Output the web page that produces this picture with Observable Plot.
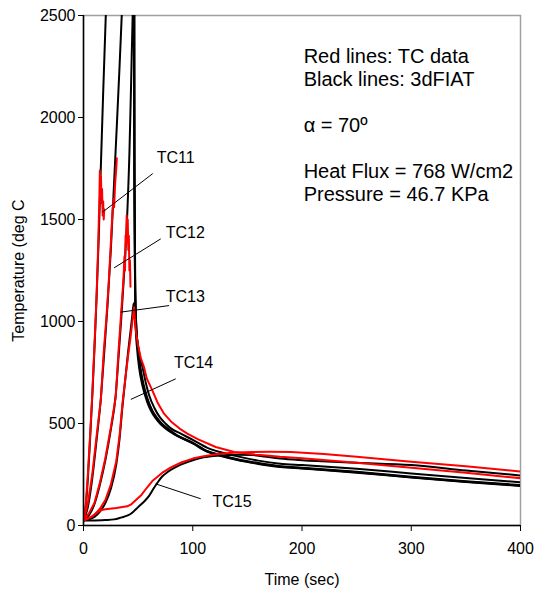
<!DOCTYPE html>
<html>
<head>
<meta charset="utf-8">
<script src="https://cdn.jsdelivr.net/npm/d3@7"></script>
<script src="https://cdn.jsdelivr.net/npm/@observablehq/plot@0.6"></script>
<style>
  body { margin: 0; background: white; }
  #chart svg { display: block; }
</style>
</head>
<body>
<div id="chart"></div>
<script>
// ---- Data: [time (sec), temperature (deg C)] ----
const black11 = [[0,25],[2,90],[4,230],[6,420],[8,630],[10,860],[12,1120],[14,1420],[16,1780],[18,2120],[20.4,2500],[22,2740],[46,5200],[46.6,1800],[47.2,1200],[48,950],[49,870],[51,770],[54,685],[58,610],[62,560],[66,526],[70,500],[75,476],[84,444],[100,402],[113,362],[125,342],[140,322],[160,302],[180,287],[200,279],[250,259],[300,235],[350,213],[400,194]];
const black12 = [[0,25],[4,90],[8,230],[12,420],[16,630],[19,850],[22,1080],[25,1350],[28,1680],[30.5,1960],[33,2250],[35,2500],[37,2750],[46,4300],[46.7,1700],[47.4,1150],[48.5,960],[50,850],[52,765],[55,680],[59,610],[63,560],[67,527],[71,500],[76,477],[84,446],[100,404],[113,364],[125,344],[140,324],[160,304],[180,289],[200,281],[250,261],[300,237],[350,215],[400,196]];
const black13 = [[0,25],[5,50],[10,105],[15,200],[20,320],[25,470],[29.5,640],[32,820],[34.5,1010],[37,1220],[40,1520],[42,1820],[43.5,2150],[45,2500],[46,2650],[46.6,1600],[47.5,1100],[48.5,960],[50,860],[52,775],[55,690],[59,615],[63,563],[67,530],[71,503],[76,480],[84,448],[100,406],[113,366],[125,346],[140,326],[160,306],[180,291],[200,283],[250,263],[300,239],[350,217],[400,198]];
const black14 = [[0,25],[5,30],[10,42],[15,68],[20,110],[25,180],[30,300],[33,425],[35.7,585],[38.7,740],[41,860],[43,950],[44.5,1020],[46,1090],[46.6,1060],[47,1020],[48,960],[50,880],[52,820],[54,776],[57,700],[60,640],[65,575],[70,530],[75,500],[80,476],[89,450],[100,420],[113,382],[125,360],[140,340],[160,318],[180,303],[200,296],[250,278],[300,255],[350,233],[400,212]];
const black15 = [[0,25],[10,25],[20,27],[28,30],[35,40],[40,48],[44,60],[48,80],[52,100],[56,120],[60,145],[64,180],[68,212],[72,240],[77,262],[83,282],[89,298],[100,320],[110,334],[125,343],[140,347],[155,345],[180,328],[200,320],[250,308],[300,296],[350,270],[400,245]];

const red11 = [[0,25],[2,100],[4,250],[6,440],[8,640],[10,880],[12,1130],[13.5,1380],[14.5,1600],[15,1740],[15.5,1620],[16,1710],[16.5,1580],[17,1650],[17.5,1520],[18,1590],[18.5,1500],[19,1550]];
const red12 = [[0,25],[4,110],[8,250],[12,440],[15.8,613],[18.6,858],[21,1020],[23.2,1200],[25,1380],[26.5,1540],[27.5,1600],[28,1560],[29,1680],[30,1750],[30.5,1800]];
const red13 = [[0,25],[5,60],[10,110],[15,210],[20,330],[25,480],[29.5,630],[32,850],[34.5,1045],[36.5,1200],[37.5,1320],[38,1250],[38.5,1420],[39,1380],[39.5,1520],[40,1450],[40.5,1500],[41,1350],[41.5,1420],[42,1250],[42.5,1300],[43,1170]];
const red14 = [[0,25],[5,35],[10,52],[15,82],[20,125],[25,200],[30,315],[33,440],[35.7,600],[38.7,740],[41,840],[43,920],[44.5,990],[46.3,1070],[47,1010],[48,950],[50,880],[52.5,820],[55.4,776],[58,720],[63,662],[68,600],[73.7,548],[80,510],[88,475],[95,450],[105,422],[121,385],[138,360],[157,348],[180,337],[200,330],[250,308],[300,283],[350,258],[400,232]];
const red15 = [[0,25],[4,35],[8,45],[12,62],[16,75],[20,80],[30,86],[40,94],[44,105],[48,125],[53,150],[58,185],[63,218],[68,240],[73,262],[80,285],[90,310],[100,328],[110,340],[125,352],[140,358],[155,360],[170,361],[190,360],[220,350],[250,337],[300,312],[350,290],[400,265]];

// Labels for the thermocouples and their leader lines (time, temperature)
const tcNames = ["TC11","TC12","TC13","TC14","TC15"];
const tcLabelT = [67.0, 75.3, 75.3, 82.9, 118.0];
const tcLabelTemp = [1801, 1434, 1123, 799, 114];
const leaderT1 = [63.4, 70.7, 78.3, 84.4, 107.3];
const leaderTemp1 = [1725, 1405, 1078, 719, 131];
const leaderT2 = [17.4, 28.0, 34.1, 43.3, 66.1];
const leaderTemp2 = [1536, 1263, 1046, 618, 204];

// Annotation block
const noteLines = ["Red lines: TC data", "Black lines: 3dFIAT", "\u03b1 = 70\u00ba", "Heat Flux = 768 W/cm2", "Pressure = 46.7 KPa"];
const noteT = [201.5, 201.5, 201.5, 201.5, 201.5];
const noteTemp = [2299, 2186, 1961, 1735, 1623];

const xTicks = [0, 100, 200, 300, 400];
const yTicks = [0, 500, 1000, 1500, 2000, 2500];

const blackSeries = [black11, black12, black13, black14, black15];
const redSeries = [red11, red12, red13, red14, red15];

const labels = tcNames.map((n, i) => ({name: n, t: tcLabelT[i], temp: tcLabelTemp[i], t1: leaderT1[i], y1: leaderTemp1[i], t2: leaderT2[i], y2: leaderTemp2[i]}));
const notes = noteLines.map((s, i) => ({s, t: noteT[i], temp: noteTemp[i]}));

const font = "'Liberation Sans', Arial, Helvetica, sans-serif";

const lineOpts = (color, curve) => ({x: d => d[0], y: d => d[1], stroke: color, strokeWidth: 2, clip: true, curve});

const chart = Plot.plot({
  width: 535,
  height: 590,
  marginLeft: 83,
  marginRight: 15,
  marginTop: 15,
  marginBottom: 65,
  style: {fontFamily: font, fontSize: "16px", background: "white", color: "black"},
  x: {domain: [0, 400]},
  y: {domain: [0, 2500]},
  marks: [
    Plot.frame({stroke: "#a0a0a0", strokeWidth: 1.5}),
    ...blackSeries.map(s => Plot.line(s, lineOpts("black", "monotone-x"))),
    ...redSeries.map(s => Plot.line(s, lineOpts("#ff0000", "linear"))),
    Plot.link(labels, {x1: "t1", y1: "y1", x2: "t2", y2: "y2", stroke: "black", strokeWidth: 1}),
    Plot.text(labels, {x: "t", y: "temp", text: "name", textAnchor: "start", fontSize: 16, fill: "black"}),
    Plot.text(notes, {x: "t", y: "temp", text: "s", textAnchor: "start", fontSize: 20, fill: "black"}),
    Plot.ruleX([0], {stroke: "black", strokeWidth: 1.5}),
    Plot.ruleY([0], {stroke: "black", strokeWidth: 1.5}),
    Plot.axisX({ticks: xTicks, tickSize: 6, tickPadding: 11, tickFormat: d => String(d), label: null, fontSize: 16, stroke: "black"}),
    Plot.axisY({ticks: yTicks, tickSize: 5, tickPadding: 3, tickFormat: d => String(d), label: null, fontSize: 16, stroke: "black"}),
    Plot.text(["Time (sec)"], {frameAnchor: "bottom", dy: 59, fontSize: 16, fill: "black"}),
    Plot.text(["Temperature (deg C"], {frameAnchor: "left", dx: -65, rotate: -90, textAnchor: "middle", fontSize: 16, fill: "black"})
  ]
});
document.getElementById("chart").appendChild(chart);
</script>
</body>
</html>
